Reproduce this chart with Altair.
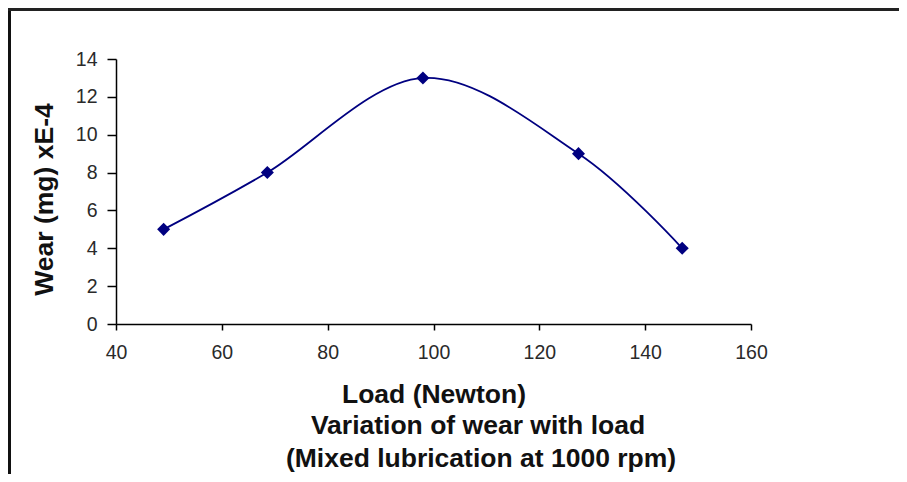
import altair as alt
import pandas as pd

# Data
load_newton = [49.0, 68.6, 98.0, 127.4, 147.0]
wear_e4 = [5, 8, 13, 9, 4]

x_ticks = [40, 60, 80, 100, 120, 140, 160]
y_ticks = [0, 2, 4, 6, 8, 10, 12, 14]
caption_lines = ["Variation of wear with load", "(Mixed lubrication at 1000 rpm)"]

df = pd.DataFrame({"load": load_newton, "wear": wear_e4})

W, H = 635, 265
FONT = "Liberation Sans"
NAVY = "#000080"
TITLE_SIZE = 26.5

x_enc = alt.X(
    "load:Q",
    scale=alt.Scale(domain=[40, 160], nice=False, zero=False),
    axis=alt.Axis(
        values=x_ticks,
        title="Load (Newton)",
        titleFont=FONT, titleFontSize=TITLE_SIZE, titleFontWeight="bold", titleColor="#111",
        titleX=317.5, titleY=70, titleBaseline="middle", titleAlign="center",
        labelFont=FONT, labelFontSize=19.5, labelColor="#2a2a2a", labelPadding=13,
        labelFlush=False, labelOverlap=False,
        tickSize=6, tickColor="#000", tickWidth=1.5,
        domainColor="#000", domainWidth=1.5, grid=False,
    ),
)
y_enc = alt.Y(
    "wear:Q",
    scale=alt.Scale(domain=[0, 14], nice=False),
    axis=alt.Axis(
        values=y_ticks,
        tickCount=8,
        title="Wear (mg) xE-4",
        titleFont=FONT, titleFontSize=TITLE_SIZE, titleFontWeight="bold", titleColor="#111",
        titleX=-71.5, titleY=140, titleAngle=-90, titleBaseline="middle", titleAlign="center",
        labelFont=FONT, labelFontSize=19.5, labelColor="#2a2a2a", labelPadding=10,
        labelFlush=False, labelOverlap=False, labelBound=False,
        tickSize=9, tickColor="#000", tickWidth=1.5,
        domainColor="#000", domainWidth=1.5, grid=False,
    ),
)

base = alt.Chart(df).encode(x=x_enc, y=y_enc)

line = base.mark_line(color=NAVY, strokeWidth=1.8, interpolate="cardinal")
points = base.mark_point(shape="diamond", filled=True, color=NAVY, size=170, opacity=1)

cap_df = pd.DataFrame({"text": caption_lines})
caption1 = alt.Chart(cap_df.iloc[[0]]).mark_text(
    font=FONT, fontSize=TITLE_SIZE, fontWeight="bold", color="#111", align="center", baseline="middle"
).encode(text="text:N", x=alt.value(362), y=alt.value(367))
caption2 = alt.Chart(cap_df.iloc[[1]]).mark_text(
    font=FONT, fontSize=TITLE_SIZE, fontWeight="bold", color="#111", align="center", baseline="middle"
).encode(text="text:N", x=alt.value(365), y=alt.value(400))

frame_left = alt.Chart(df.iloc[[0]]).mark_rule(color="#111", strokeWidth=3).encode(
    x=alt.value(-106.5), y=alt.value(-52), y2=alt.value(500)
)
frame_top = alt.Chart(df.iloc[[0]]).mark_rule(color="#222", strokeWidth=3).encode(
    x=alt.value(-108), x2=alt.value(1000), y=alt.value(-49.5)
)

chart = alt.layer(line, points, caption1, caption2, frame_left, frame_top).properties(
    width=W, height=H,
    autosize=alt.AutoSizeParams(type="none"),
    padding={"left": 108, "top": 51, "right": 148, "bottom": 150},
    background="white",
).configure_view(stroke=None)

chart.save("out.html", embed_options={"renderer": "svg", "actions": False})
